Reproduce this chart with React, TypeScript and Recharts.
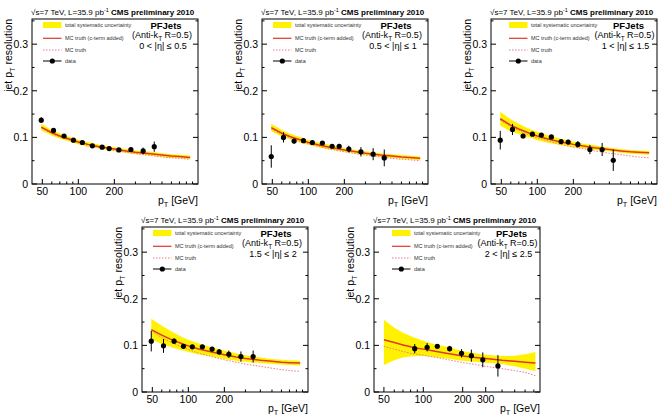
import React from "react";
import { Area, ComposedChart, ErrorBar, Line, Scatter, XAxis, YAxis } from "recharts";

const FONT = '"Liberation Sans", Arial, Helvetica, sans-serif';

// pT grid of the MC curves
const curvePt = [49, 60, 70, 80, 90, 100, 120, 150, 200, 250, 300, 400, 500, 600, 700, 860];
const curvePt5 = [50, 60, 70, 80, 90, 100, 120, 150, 200, 250, 300, 400, 500, 600, 720];

// data bin centres
const binPt = [49, 62, 76, 91, 108, 131, 158, 181, 218, 275, 348, 431];
const binPt4 = [49, 62, 76, 91, 108, 131, 158, 181, 218, 275, 348];
const binPt5 = [86, 107, 128, 159, 196, 233, 285, 372];

// 0 < |eta| <= 0.5
const mc1 = [0.122, 0.11, 0.103, 0.098, 0.094, 0.09, 0.085, 0.08, 0.075, 0.071, 0.068, 0.065, 0.062, 0.06, 0.059, 0.057];
const truth1 = [0.12, 0.108, 0.101, 0.096, 0.092, 0.088, 0.083, 0.078, 0.072, 0.068, 0.065, 0.061, 0.058, 0.056, 0.055, 0.053];
const hi1 = [0.129, 0.116, 0.109, 0.103, 0.099, 0.095, 0.09, 0.084, 0.079, 0.075, 0.072, 0.069, 0.066, 0.064, 0.063, 0.061];
const lo1 = [0.115, 0.104, 0.097, 0.093, 0.089, 0.085, 0.08, 0.076, 0.071, 0.067, 0.064, 0.061, 0.058, 0.056, 0.055, 0.053];
const data1 = [0.137, 0.115, 0.103, 0.094, 0.089, 0.082, 0.079, 0.076, 0.073, 0.074, 0.071, 0.08];
const err1 = [0.006, 0.005, 0.004, 0.003, 0.003, 0.003, 0.003, 0.003, 0.003, 0.005, 0.007, 0.011];

// 0.5 < |eta| <= 1
const mc2 = [0.121, 0.109, 0.102, 0.097, 0.093, 0.089, 0.084, 0.079, 0.073, 0.069, 0.066, 0.062, 0.06, 0.058, 0.057, 0.055];
const truth2 = [0.118, 0.106, 0.099, 0.094, 0.09, 0.086, 0.081, 0.075, 0.069, 0.065, 0.062, 0.058, 0.055, 0.053, 0.052, 0.05];
const hi2 = [0.129, 0.116, 0.108, 0.103, 0.099, 0.094, 0.089, 0.084, 0.077, 0.073, 0.07, 0.066, 0.064, 0.062, 0.061, 0.059];
const lo2 = [0.113, 0.102, 0.096, 0.091, 0.087, 0.084, 0.079, 0.074, 0.069, 0.065, 0.062, 0.058, 0.056, 0.054, 0.053, 0.051];
const data2 = [0.059, 0.1, 0.092, 0.093, 0.089, 0.088, 0.081, 0.081, 0.075, 0.069, 0.064, 0.056];
const err2 = [0.024, 0.011, 0.005, 0.004, 0.004, 0.004, 0.004, 0.005, 0.007, 0.01, 0.013, 0.018];

// 1 < |eta| <= 1.5
const mc3 = [0.14, 0.126, 0.118, 0.112, 0.107, 0.103, 0.097, 0.091, 0.085, 0.081, 0.078, 0.074, 0.071, 0.069, 0.068, 0.067];
const truth3 = [0.137, 0.123, 0.115, 0.108, 0.103, 0.099, 0.093, 0.086, 0.079, 0.075, 0.071, 0.066, 0.063, 0.06, 0.058, 0.056];
const hi3 = [0.155, 0.139, 0.129, 0.122, 0.116, 0.112, 0.105, 0.098, 0.091, 0.086, 0.083, 0.078, 0.075, 0.073, 0.072, 0.071];
const lo3 = [0.125, 0.113, 0.107, 0.102, 0.098, 0.094, 0.089, 0.084, 0.079, 0.076, 0.073, 0.07, 0.067, 0.065, 0.064, 0.063];
const data3 = [0.094, 0.117, 0.103, 0.107, 0.105, 0.101, 0.091, 0.09, 0.085, 0.074, 0.074, 0.051];
const err3 = [0.02, 0.012, 0.005, 0.004, 0.004, 0.004, 0.004, 0.005, 0.007, 0.01, 0.014, 0.023];

// 1.5 < |eta| <= 2
const mc4 = [0.134, 0.122, 0.114, 0.108, 0.103, 0.099, 0.093, 0.087, 0.08, 0.075, 0.072, 0.068, 0.066, 0.064, 0.063, 0.062];
const truth4 = [0.131, 0.117, 0.108, 0.101, 0.096, 0.091, 0.084, 0.077, 0.069, 0.064, 0.06, 0.055, 0.051, 0.048, 0.046, 0.044];
const hi4 = [0.157, 0.142, 0.132, 0.124, 0.117, 0.112, 0.105, 0.097, 0.089, 0.083, 0.079, 0.074, 0.071, 0.069, 0.068, 0.067];
const lo4 = [0.113, 0.103, 0.097, 0.092, 0.089, 0.086, 0.081, 0.077, 0.071, 0.067, 0.065, 0.062, 0.06, 0.059, 0.058, 0.057];
const data4 = [0.109, 0.099, 0.109, 0.098, 0.097, 0.097, 0.092, 0.086, 0.081, 0.076, 0.076];
const err4 = [0.022, 0.015, 0.006, 0.005, 0.004, 0.004, 0.005, 0.006, 0.008, 0.011, 0.013];

// 2 < |eta| <= 2.5
const mc5 = [0.112, 0.106, 0.101, 0.097, 0.094, 0.092, 0.088, 0.083, 0.077, 0.074, 0.072, 0.068, 0.066, 0.064, 0.062];
const truth5 = [0.098, 0.092, 0.087, 0.083, 0.081, 0.079, 0.075, 0.07, 0.063, 0.059, 0.055, 0.05, 0.046, 0.042, 0.035];
const hi5 = [0.155, 0.138, 0.127, 0.12, 0.114, 0.11, 0.103, 0.097, 0.088, 0.083, 0.08, 0.077, 0.078, 0.081, 0.086];
const lo5 = [0.058, 0.068, 0.074, 0.076, 0.077, 0.077, 0.075, 0.072, 0.067, 0.065, 0.063, 0.06, 0.055, 0.05, 0.045];
const data5 = [0.093, 0.096, 0.098, 0.093, 0.083, 0.078, 0.069, 0.056];
const err5 = [0.01, 0.009, 0.004, 0.006, 0.009, 0.013, 0.016, 0.023];

const xTicks = [50, 60, 70, 80, 90, 100, 200, 300, 400, 500, 600, 700, 800, 900];
const xTicks5 = [50, 60, 70, 80, 90, 100, 200, 300, 400, 500, 600, 700];
const xLabels = [50, 100, 200];
const xLabels5 = [50, 100, 200, 300];
const yTicks = [0, 0.05, 0.1, 0.15, 0.2, 0.25, 0.3, 0.35];

const W = 204;
const H = 208;
const L = 32;
const R = 198;
const T = 19;
const B = 184;

type PanelProps = {
  ox: number;
  oy: number;
  eta: string;
  xDomain: [number, number];
  ticks: number[];
  labels: number[];
  grid: number[];
  mc: number[];
  truth: number[];
  hi: number[];
  lo: number[];
  bins: number[];
  vals: number[];
  errs: number[];
  legendDx: number;
};

function PT({ size }: { size: number }) {
  return (
    <>
      p<tspan dy={size * 0.3} fontSize={size * 0.7}>T</tspan>
      <tspan dy={-size * 0.3}> </tspan>
    </>
  );
}

function Panel(p: PanelProps) {
  const curve = p.grid.map((pt, i) => ({ pt, mc: p.mc[i], truth: p.truth[i], band: [p.lo[i], p.hi[i]] }));
  const points = p.bins.map((pt, i) => ({ pt, val: p.vals[i], err: p.errs[i] }));

  const xTick = (t: any) => {
    const v = t.payload.value;
    const x = t.payload.coordinate ?? t.x;
    const major = p.labels.includes(v);
    return (
      <g key={`x${v}`}>
        <line x1={x} x2={x} y1={B} y2={B - (major ? 5 : 2.5)} stroke="#000" />
        {major && (
          <text x={x} y={B + 11} textAnchor="middle" fontSize={10.5} fontFamily={FONT} fill="#000">
            {v}
          </text>
        )}
      </g>
    );
  };

  const yTick = (t: any) => {
    const v = t.payload.value;
    const y = t.payload.coordinate ?? t.y;
    const major = Math.abs(v * 10 - Math.round(v * 10)) < 1e-6;
    const len = major ? 5 : 2.5;
    return (
      <g key={`y${v}`}>
        <line x1={L} x2={L + len} y1={y} y2={y} stroke="#000" />
        <line x1={R} x2={R - len} y1={y} y2={y} stroke="#000" />
        {major && (
          <text x={L - 4} y={y + 4} textAnchor="end" fontSize={10.5} fontFamily={FONT} fill="#000">
            {String(v)}
          </text>
        )}
      </g>
    );
  };

  const lx = L + 11 + p.legendDx;

  return (
    <div style={{ position: "absolute", left: p.ox, top: p.oy, width: W, height: H }}>
      <ComposedChart width={W} height={H} data={curve} margin={{ top: T, left: 0, right: W - R, bottom: 0 }}>
        <XAxis
          dataKey="pt"
          type="number"
          scale="log"
          domain={p.xDomain}
          allowDataOverflow
          ticks={p.ticks}
          interval={0}
          height={H - B}
          axisLine={false}
          tickLine={false}
          tick={xTick}
        />
        <YAxis
          type="number"
          domain={[0, 0.354]}
          allowDataOverflow
          ticks={yTicks}
          interval={0}
          width={L}
          axisLine={false}
          tickLine={false}
          tick={yTick}
        />
        <Area dataKey="band" stroke="none" fill="#fff200" fillOpacity={1} isAnimationActive={false} />
        <Line dataKey="truth" stroke="#f07a88" strokeWidth={1} strokeDasharray="1.5 1.5" dot={false} isAnimationActive={false} />
        <Line dataKey="mc" stroke="#e0352b" strokeWidth={1.5} dot={false} isAnimationActive={false} />
        <Scatter
          data={points}
          dataKey="val"
          isAnimationActive={false}
          shape={(s: any) => <circle cx={s.cx} cy={s.cy} r={2.6} fill="#000" />}
        >
          <ErrorBar dataKey="err" direction="y" width={0} stroke="#000" strokeWidth={1} />
        </Scatter>
      </ComposedChart>

      <svg width={W} height={H} style={{ position: "absolute", left: 0, top: 0, overflow: "visible" }} fontFamily={FONT}>
        <rect x={L} y={T} width={R - L} height={B - T} fill="none" stroke="#000" strokeWidth={1} />
        <text x={L - 1} y={T - 4} fontSize={8} fill="#000">
          √s=7 TeV, L=35.9 pb<tspan dy={-3} fontSize={5.5}>-1</tspan>
          <tspan dy={3}> </tspan>
          <tspan fontWeight="bold">CMS preliminary 2010</tspan>
        </text>

        <rect x={lx} y={T + 3} width={18.5} height={6} fill="#fff200" />
        <text x={lx + 22} y={T + 8} fontSize={5.5} fill="#333">total systematic uncertainty</text>
        <line x1={lx} x2={lx + 18.5} y1={T + 19.3} y2={T + 19.3} stroke="#e0352b" strokeWidth={1.2} />
        <text x={lx + 22} y={T + 21.3} fontSize={5.5} fill="#333">MC truth (c-term added)</text>
        <line x1={lx} x2={lx + 18.5} y1={T + 31} y2={T + 31} stroke="#f07a88" strokeWidth={1} strokeDasharray="1.5 1.5" />
        <text x={lx + 22} y={T + 33} fontSize={5.5} fill="#333">MC truth</text>
        <line x1={lx} x2={lx + 18.5} y1={T + 42} y2={T + 42} stroke="#000" strokeWidth={1} />
        <circle cx={lx + 9.3} cy={T + 42} r={2.6} fill="#000" />
        <text x={lx + 22} y={T + 44} fontSize={5.5} fill="#333">data</text>

        <text x={R - 32 + p.legendDx / 2} y={T + 10} textAnchor="middle" fontSize={9.5} fontWeight="bold" fill="#000">
          PFJets
        </text>
        <text x={R - 36 + p.legendDx / 2} y={T + 19} textAnchor="middle" fontSize={9} fill="#000">
          (Anti-k<tspan dy={2.5} fontSize={6.5}>T</tspan>
          <tspan dy={-2.5}> R=0.5)</tspan>
        </text>
        <text x={R - 35 + p.legendDx / 2} y={T + 29.5} textAnchor="middle" fontSize={9} fill="#000">
          {p.eta}
        </text>

        <text transform={`translate(${L - 20}, ${T}) rotate(-90)`} textAnchor="end" fontSize={10.5} fill="#000">
          jet <PT size={10.5} />resolution
        </text>
        <text x={R} y={B + 20} textAnchor="end" fontSize={10.5} fill="#000">
          <PT size={10.5} />[GeV]
        </text>
      </svg>
    </div>
  );
}

export default function App() {
  const full: [number, number] = [41, 1000];
  return (
    <div style={{ position: "absolute", left: 0, top: 0, width: 663, height: 417, background: "#fff" }}>
      <Panel ox={0} oy={0} eta="0 < |η| ≤ 0.5" xDomain={full} ticks={xTicks} labels={xLabels} grid={curvePt}
        mc={mc1} truth={truth1} hi={hi1} lo={lo1} bins={binPt} vals={data1} errs={err1} legendDx={0} />
      <Panel ox={230} oy={0} eta="0.5 < |η| ≤ 1" xDomain={full} ticks={xTicks} labels={xLabels} grid={curvePt}
        mc={mc2} truth={truth2} hi={hi2} lo={lo2} bins={binPt} vals={data2} errs={err2} legendDx={0} />
      <Panel ox={459} oy={0} eta="1 < |η| ≤ 1.5" xDomain={full} ticks={xTicks} labels={xLabels} grid={curvePt}
        mc={mc3} truth={truth3} hi={hi3} lo={lo3} bins={binPt} vals={data3} errs={err3} legendDx={7} />
      <Panel ox={110} oy={208} eta="1.5 < |η| ≤ 2" xDomain={full} ticks={xTicks} labels={xLabels} grid={curvePt}
        mc={mc4} truth={truth4} hi={hi4} lo={lo4} bins={binPt4} vals={data4} errs={err4} legendDx={0} />
      <Panel ox={342} oy={208} eta="2 < |η| ≤ 2.5" xDomain={[42, 780]} ticks={xTicks5} labels={xLabels5} grid={curvePt5}
        mc={mc5} truth={truth5} hi={hi5} lo={lo5} bins={binPt5} vals={data5} errs={err5} legendDx={7} />
    </div>
  );
}
